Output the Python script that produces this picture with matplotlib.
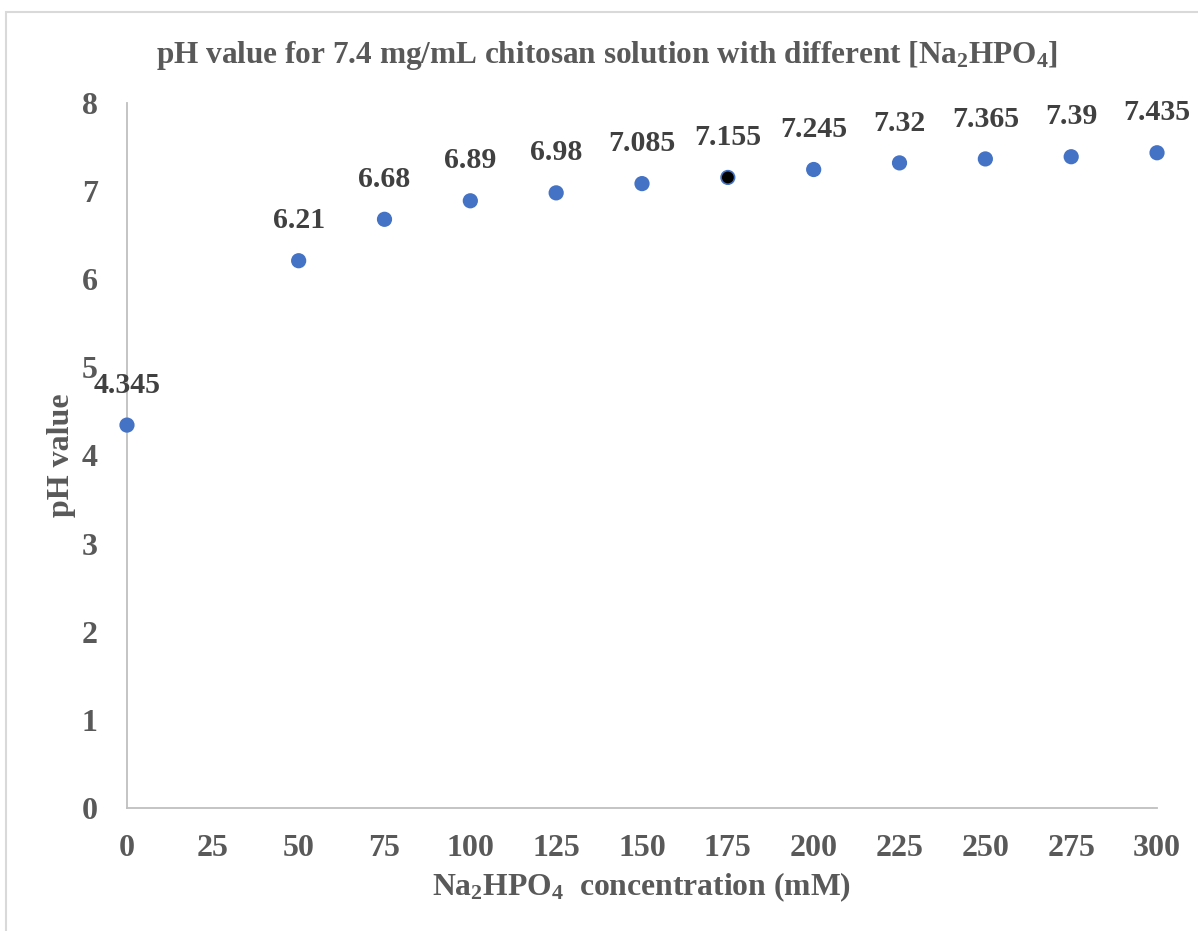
import matplotlib
matplotlib.use("Agg")
import matplotlib.pyplot as plt
from matplotlib.patches import Rectangle

# Data
conc = [0, 50, 75, 100, 125, 150, 175, 200, 225, 250, 275, 300]
ph = [4.345, 6.21, 6.68, 6.89, 6.98, 7.085, 7.155, 7.245, 7.32, 7.365, 7.39, 7.435]
ph_labels = ['4.345', '6.21', '6.68', '6.89', '6.98', '7.085', '7.155',
             '7.245', '7.32', '7.365', '7.39', '7.435']
x_ticks = list(range(0, 301, 25))
y_ticks = list(range(0, 9))

plt.rcParams['font.family'] = ['Liberation Serif', 'DejaVu Serif']
plt.rcParams['font.weight'] = 'bold'
plt.rcParams['mathtext.fontset'] = 'custom'
plt.rcParams['mathtext.rm'] = 'Liberation Serif:bold'
plt.rcParams['mathtext.it'] = 'Liberation Serif:bold'
plt.rcParams['mathtext.bf'] = 'Liberation Serif:bold'

grey = '#595959'
blue = '#4472C4'

fig = plt.figure(figsize=(11.98, 9.31), dpi=100)
ax = fig.add_axes([0.106, 0.1321, 0.8598, 0.7573])

# chart border (extends past the right and bottom edges)
fig.patches.append(Rectangle((6 / 1198, -0.1), 1.2, 1 - 12 / 931 + 0.1,
                             transform=fig.transFigure, fill=False,
                             edgecolor='#D9D9D9', linewidth=1.5))

# highlight the 175 mM point with a black centre
face = [blue] * len(conc)
face[conc.index(175)] = 'black'
ax.scatter(conc, ph, s=95, c=face, edgecolors=blue, linewidths=1.2,
           zorder=3, clip_on=False)

for xv, yv, lab in zip(conc, ph, ph_labels):
    ax.annotate(lab, (xv, yv), xytext=(0, 19), textcoords='offset points',
                ha='center', va='bottom', fontsize=21.5, fontweight='bold',
                color='#404040')

ax.set_xlim(0, 300)
ax.set_ylim(0, 8)
ax.set_xticks(x_ticks)
ax.set_yticks(y_ticks)
ax.tick_params(length=0, labelsize=23, labelcolor=grey)
ax.tick_params(axis='x', pad=19)
ax.tick_params(axis='y', pad=21)
for lbl in ax.get_xticklabels() + ax.get_yticklabels():
    lbl.set_fontweight('bold')

for side in ['top', 'right']:
    ax.spines[side].set_visible(False)
for side in ['left', 'bottom']:
    ax.spines[side].set_color('#BFBFBF')
    ax.spines[side].set_linewidth(1.3)

fig.text(642 / 1198, 1 - 887 / 931, r'Na$_{2}$HPO$_{4}$  concentration (mM)',
         ha='center', va='center', fontsize=22.8, fontweight='bold', color=grey)
fig.text(62 / 1198, 1 - 455 / 931, 'pH value', rotation=90,
         ha='center', va='center', fontsize=23, fontweight='bold', color=grey)
fig.text(607 / 1198, 1 - 55 / 931,
         r'pH value for 7.4 mg/mL chitosan solution with different [Na$_{2}$HPO$_{4}$]',
         ha='center', va='center', fontsize=22.5, fontweight='bold', color=grey)

fig.savefig('out.png', dpi=100)
